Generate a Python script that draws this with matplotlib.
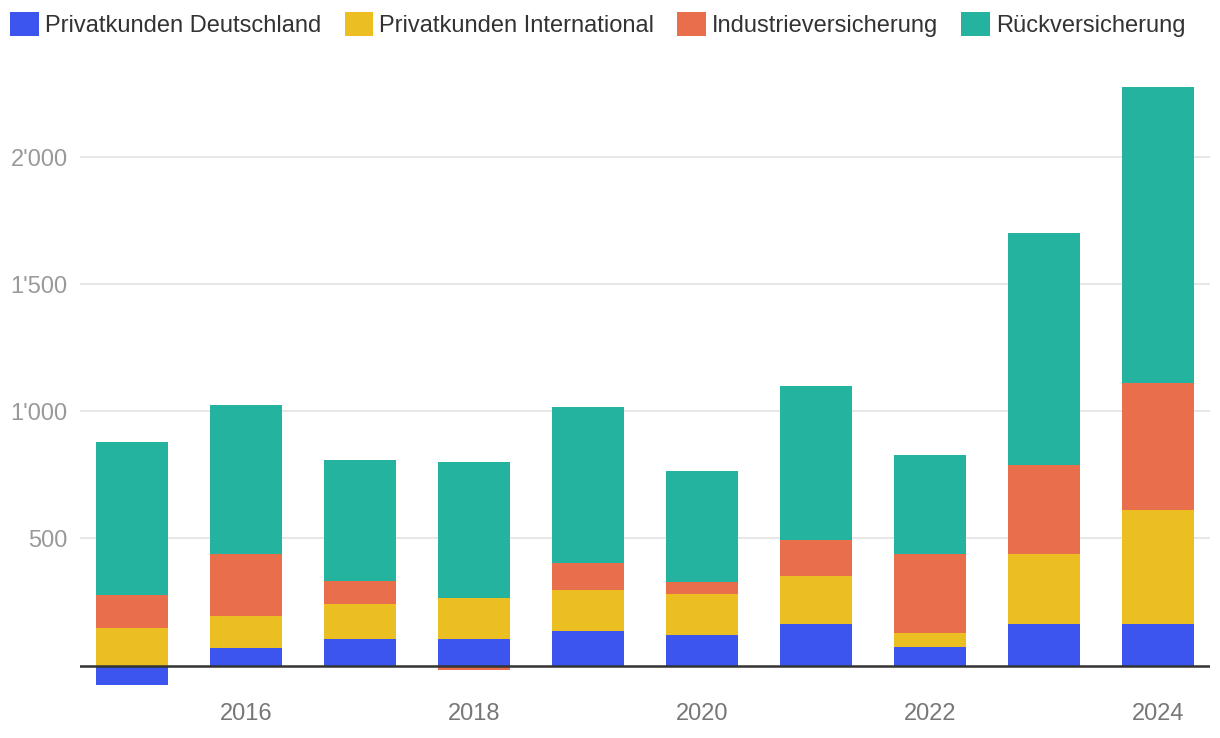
import matplotlib
matplotlib.use('Agg')
import matplotlib.pyplot as plt
import numpy as np
from matplotlib.patches import Patch

plt.rcParams['font.family'] = ['Liberation Sans', 'DejaVu Sans']

years = [2015, 2016, 2017, 2018, 2019, 2020, 2021, 2022, 2023, 2024]
series = ['Privatkunden Deutschland', 'Privatkunden International',
          'Industrieversicherung', 'Rückversicherung']
colors = ['#3B55EE', '#EBBE22', '#E86E4C', '#23B39E']

privat_de = [-78, 69, 104, 104, 135, 120, 163, 73, 163, 163]
privat_int = [147, 125, 137, 161, 161, 160, 188, 54, 274, 447]
industrie = [129, 243, 90, -16, 106, 47, 141, 310, 353, 501]
rueck = [604, 588, 478, 537, 615, 439, 608, 392, 913, 1164]

values = [privat_de, privat_int, industrie, rueck]

fig = plt.figure(figsize=(12.2, 7.38), dpi=100)
ax = fig.add_axes([80 / 1220, 47 / 738, 1130 / 1220, 623 / 738])

x = np.array(years)
pos = np.zeros(len(years))
neg = np.zeros(len(years))
for vals, c in zip(values, colors):
    v = np.array(vals, dtype=float)
    bottom = np.where(v >= 0, pos, neg)
    ax.bar(x, v, width=0.63, bottom=bottom, color=c, zorder=3)
    pos = np.where(v >= 0, pos + v, pos)
    neg = np.where(v < 0, neg + v, neg)

ax.set_xlim(2014.544, 2024.456)
ax.set_ylim(-100, 2350)
ax.set_yticks([500, 1000, 1500, 2000])
ax.set_yticklabels([f"{v:,}".replace(',', "'") for v in [500, 1000, 1500, 2000]])
ax.set_xticks([2016, 2018, 2020, 2022, 2024])
ax.grid(axis='y', color='#e3e3e3', linewidth=1.2, zorder=0)
ax.axhline(0, color='#333333', linewidth=1.8, zorder=4)
for s in ax.spines.values():
    s.set_visible(False)
ax.tick_params(axis='y', length=0, pad=9, labelsize=17, labelcolor='#999999')
ax.tick_params(axis='x', length=0, pad=9, labelsize=17, labelcolor='#777777')

handles = [Patch(facecolor=c, label=s) for s, c in zip(series, colors)]
fig.legend(handles=handles, loc='upper left', bbox_to_anchor=(-0.005, 1.006), ncol=4,
           frameon=False, fontsize=17, handlelength=1.2, handleheight=1.2,
           handletextpad=0.25, columnspacing=1.0, labelcolor='#333333',
           borderaxespad=0.3)

fig.savefig('out.png', dpi=100)
